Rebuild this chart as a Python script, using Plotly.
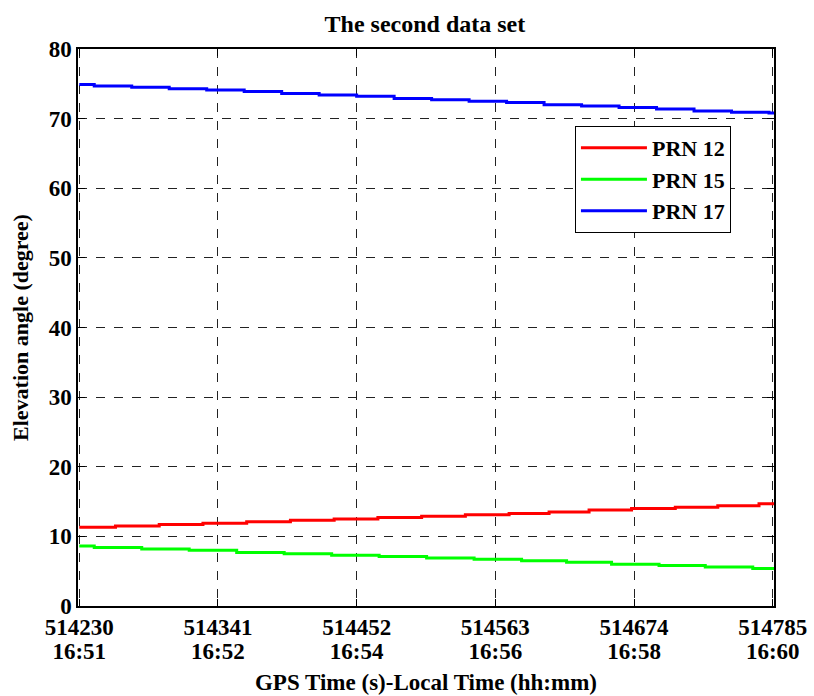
import plotly.graph_objects as go

# Satellite elevation angles (degrees), stepwise samples: time of each level change
t_prn12 = [514230, 514259, 514294, 514329, 514364, 514399, 514434, 514469, 514504,
           514539, 514574, 514606, 514638, 514672, 514707, 514741, 514774, 514786]
e_prn12 = [11.3, 11.5, 11.7, 11.9, 12.1, 12.3, 12.5, 12.7, 12.9,
           13.1, 13.3, 13.5, 13.8, 14.0, 14.2, 14.4, 14.7, 14.7]

t_prn15 = [514230, 514242, 514280, 514318, 514356, 514394, 514432, 514470, 514508,
           514546, 514584, 514620, 514656, 514694, 514731, 514769, 514786]
e_prn15 = [8.6, 8.4, 8.2, 8.0, 7.7, 7.5, 7.3, 7.1, 6.9,
           6.7, 6.5, 6.3, 6.0, 5.8, 5.6, 5.4, 5.4]

t_prn17 = [514230, 514242, 514272, 514302, 514332, 514362, 514392, 514422, 514452,
           514482, 514512, 514542, 514572, 514602, 514632, 514662, 514692, 514722,
           514752, 514782, 514786]
e_prn17 = [74.9, 74.7, 74.5, 74.3, 74.1, 73.9, 73.6, 73.4, 73.2,
           72.9, 72.7, 72.5, 72.3, 72.0, 71.8, 71.6, 71.4, 71.1,
           70.9, 70.8, 70.8]

# Axis ticks: GPS seconds with local time underneath
gps_ticks = [514230, 514341, 514452, 514563, 514674, 514785]
local_times = ["16:51", "16:52", "16:54", "16:56", "16:58", "16:60"]
y_ticks = [0, 10, 20, 30, 40, 50, 60, 70, 80]

FONT = "Liberation Serif, Times New Roman, serif"
X_RANGE = [514229, 514786]

fig = go.Figure()
for name, t, e, color in [
    ("PRN 12", t_prn12, e_prn12, "#ff0000"),
    ("PRN 15", t_prn15, e_prn15, "#00ff00"),
    ("PRN 17", t_prn17, e_prn17, "#0000ff"),
]:
    fig.add_trace(go.Scatter(x=t, y=e, mode="lines", name=f"<b>{name}</b>",
                             line=dict(color=color, width=3, shape="hv")))

# transparent companion trace so the local-time axis is rendered
fig.add_trace(go.Scatter(x=t_prn17, y=e_prn17, xaxis="x2", mode="lines",
                         opacity=0, showlegend=False, hoverinfo="skip"))

axis_common = dict(
    showline=True, linecolor="black", linewidth=1.5, mirror="ticks",
    ticks="inside", ticklen=7, tickcolor="black", tickwidth=1,
    showgrid=True, gridcolor="#222222", gridwidth=1, griddash="dash",
    zeroline=False, automargin=False,
    tickfont=dict(family=FONT, size=23, color="black"),
)

fig.update_layout(
    xaxis=dict(
        **axis_common,
        range=X_RANGE,
        tickvals=gps_ticks,
        ticktext=[f"<b>{g}</b>" for g in gps_ticks],
    ),
    xaxis2=dict(
        overlaying="x", anchor="y", side="bottom", range=X_RANGE,
        showline=False, showgrid=False, zeroline=False, ticks="",
        automargin=False, ticklabelstandoff=29,
        tickvals=gps_ticks,
        ticktext=[f"<b>{lt}</b>" for lt in local_times],
        tickfont=dict(family=FONT, size=23, color="black"),
        title=dict(text="<b>GPS Time (s)-Local Time (hh:mm)</b>",
                   font=dict(family=FONT, size=23, color="black"), standoff=10),
    ),
    yaxis=dict(
        **axis_common,
        range=[0, 80],
        tickvals=y_ticks,
        ticktext=[f"<b>{v}</b>" for v in y_ticks],
        title=dict(text="<b>Elevation angle (degree)</b>",
                   font=dict(family=FONT, size=22, color="black"), standoff=14),
    ),
)

fig.update_layout(
    width=814, height=696,
    margin=dict(l=78, r=40, t=49, b=90),
    paper_bgcolor="white", plot_bgcolor="white",
    font=dict(family=FONT, color="black"),
    title=dict(text="<b>The second data set</b>", x=0.522, xanchor="center",
               y=0.966, yanchor="middle",
               font=dict(family=FONT, size=24, color="black")),
    legend=dict(x=0.714, y=0.862, xanchor="left", yanchor="top",
                bgcolor="white", bordercolor="black", borderwidth=1,
                font=dict(family=FONT, size=22, color="black"),
                itemwidth=66, tracegroupgap=0),
    showlegend=True,
)

fig.write_html("out.html")
